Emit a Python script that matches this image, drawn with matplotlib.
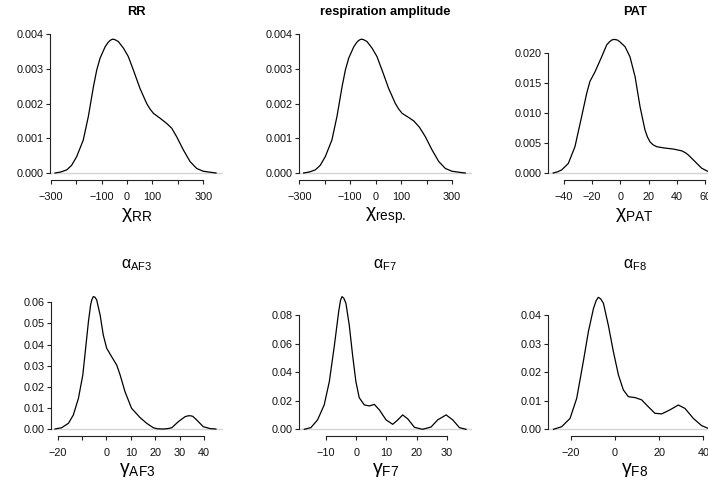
import matplotlib
matplotlib.use("Agg")
import matplotlib.pyplot as plt

plt.rcParams['font.family'] = ['Liberation Sans', 'DejaVu Sans']
plt.rcParams['mathtext.fontset'] = 'custom'
plt.rcParams['mathtext.rm'] = 'Liberation Sans'
plt.rcParams['mathtext.it'] = 'Liberation Sans:italic'
plt.rcParams['mathtext.bf'] = 'Liberation Sans:bold'
plt.rcParams['mathtext.sf'] = 'Liberation Sans'

# --- density curves ---
rr_x = [-283, -260, -237, -218, -198, -172, -152, -132, -119, -106, -86, -75, -67, -60, -54,
        -46, -34, -14, 5, 25, 51, 77, 90, 104, 130, 156, 176, 195, 222, 248, 274, 300, 340, 350]
rr_y = [0.0, 0.00003, 0.00009, 0.00022, 0.00047, 0.00095, 0.00163, 0.00249, 0.00297,
        0.00331, 0.00364, 0.00376, 0.00382, 0.00385, 0.00386, 0.00384, 0.00379, 0.0036,
        0.00336, 0.00297, 0.00244, 0.00201, 0.00185, 0.00172, 0.00158, 0.00143, 0.00129,
        0.00105, 0.00066, 0.00033, 0.00013, 0.00005, 0.00001, 0.0]

resp_x = [-283, -260, -237, -218, -198, -172, -152, -132, -119, -106, -86, -75, -67, -60, -54,
          -46, -34, -14, 5, 25, 51, 77, 90, 104, 130, 150, 172, 195, 222, 248, 274, 300, 340, 352]
resp_y = [0.0, 0.00003, 0.00009, 0.00022, 0.00047, 0.00095, 0.00163, 0.00249, 0.00297,
          0.00331, 0.00364, 0.00376, 0.00382, 0.00385, 0.00386, 0.00384, 0.00379, 0.0036,
          0.00336, 0.00297, 0.00244, 0.00201, 0.00185, 0.00172, 0.00160, 0.00150, 0.00132,
          0.00105, 0.00066, 0.00033, 0.00013, 0.00005, 0.00001, 0.0]

pat_x = [-47.6, -44.5, -41.7, -36.9, -32.2, -27.5, -23.9, -21.6, -18.0, -13.3, -9.7, -7.8,
         -6.2, -5.0, -3.8, -2.0, -0.3, 3.3, 6.8, 10.4, 13.9, 17.4, 19.2, 21.0, 23.2, 25.7,
         30.4, 37.5, 43.5, 46.0, 48.2, 52.9, 57.6, 61.7, 70.0]
pat_y = [0.0, 0.0002, 0.0005, 0.0016, 0.0044, 0.0094, 0.0133, 0.0153, 0.0169, 0.0194,
         0.0214, 0.0219, 0.0222, 0.0223, 0.0223, 0.0222, 0.0219, 0.0211, 0.0194, 0.0161,
         0.0111, 0.0072, 0.0060, 0.0052, 0.0047, 0.0044, 0.0042, 0.0040, 0.0037, 0.0034,
         0.0030, 0.0019, 0.0008, 0.0003, 0.0]

af3_x = [-21.1, -18.4, -15.6, -13.6, -11.5, -9.7, -8.4, -7.4, -6.5, -6.0, -5.4, -4.7, -4.0,
         -2.6, -1.3, 0.1, 2.1, 4.2, 5.6, 7.6, 10.3, 13.8, 16.5, 19.2, 21.0, 23.3, 25.2, 26.8,
         29.5, 32.2, 33.3, 34.3, 35.4, 37.0, 39.7, 42.5, 44.9]
af3_y = [0.0, 0.0006, 0.0027, 0.0066, 0.0145, 0.0256, 0.0398, 0.0508, 0.0587, 0.0612,
         0.0627, 0.0624, 0.0611, 0.054, 0.0445, 0.0382, 0.0343, 0.0303, 0.0256, 0.0177,
         0.0098, 0.0054, 0.0027, 0.0006, 0.0001, 0.0, 0.0002, 0.0006, 0.0035, 0.0058,
         0.0062, 0.0063, 0.0060, 0.0043, 0.0011, 0.0002, 0.0]

f7_x = [-17.2, -15.0, -12.8, -10.6, -8.9, -7.2, -5.8, -5.2, -4.7, -4.1, -3.4, -2.3, -1.2,
        -0.1, 1.0, 2.7, 4.4, 6.0, 7.7, 9.9, 12.1, 13.8, 15.4, 17.1, 19.3, 22.0, 24.8, 27.0,
        29.8, 32.0, 34.2, 36.4]
f7_y = [0.0, 0.0012, 0.0066, 0.0171, 0.0335, 0.0592, 0.0826, 0.0905, 0.0931, 0.0920,
        0.0884, 0.0732, 0.0522, 0.0335, 0.0222, 0.0171, 0.0164, 0.0175, 0.0136, 0.0066,
        0.0035, 0.0066, 0.0101, 0.0073, 0.0014, 0.0, 0.0016, 0.0066, 0.0101, 0.0066,
        0.0012, 0.0]

f8_x = [-27.8, -24.1, -20.3, -17.3, -14.3, -12.0, -9.7, -8.5, -7.5, -6.4, -5.2, -3.0, -0.7,
        1.6, 3.8, 6.1, 9.1, 12.1, 15.1, 18.1, 21.2, 24.9, 28.7, 31.7, 35.5, 39.2, 42.3, 46.0]
f8_y = [0.0, 0.0009, 0.0038, 0.0108, 0.0237, 0.0342, 0.0423, 0.0450, 0.0462, 0.0456,
        0.0441, 0.0365, 0.0272, 0.019, 0.0138, 0.0114, 0.0111, 0.0103, 0.0079, 0.0056,
        0.0054, 0.0068, 0.0085, 0.0073, 0.0038, 0.0013, 0.0003, 0.0]

# --- titles, axis labels, ticks ---
titles = ['RR', 'respiration amplitude', 'PAT',
          r'$\mathrm{α}_{\mathrm{AF3}}$', r'$\mathrm{α}_{\mathrm{F7}}$', r'$\mathrm{α}_{\mathrm{F8}}$']
xlabels = [r'$\mathrm{χ}_{\mathrm{RR}}$', r'$\mathrm{χ}_{\mathrm{resp.}}$', r'$\mathrm{χ}_{\mathrm{PAT}}$',
           r'$\mathrm{γ}_{\mathrm{AF3}}$', r'$\mathrm{γ}_{\mathrm{F7}}$', r'$\mathrm{γ}_{\mathrm{F8}}$']
xticks = [[-300, -200, -100, 0, 100, 200, 300],
          [-300, -200, -100, 0, 100, 200, 300],
          [-40, -20, 0, 20, 40, 60],
          [-20, -10, 0, 10, 20, 30, 40],
          [-10, 0, 10, 20, 30],
          [-20, 0, 20, 40]]
xticklabels = [['−300', '', '−100', '0', '100', '', '300'],
               ['−300', '', '−100', '0', '100', '', '300'],
               ['−40', '−20', '0', '20', '40', '60'],
               ['−20', '', '0', '10', '20', '30', '40'],
               ['−10', '0', '10', '20', '30'],
               ['−20', '0', '20', '40']]
yticks = [[0.000, 0.001, 0.002, 0.003, 0.004],
          [0.000, 0.001, 0.002, 0.003, 0.004],
          [0.000, 0.005, 0.010, 0.015, 0.020],
          [0.00, 0.01, 0.02, 0.03, 0.04, 0.05, 0.06],
          [0.00, 0.02, 0.04, 0.06, 0.08],
          [0.00, 0.01, 0.02, 0.03, 0.04]]
yfmt = ['%.3f', '%.3f', '%.3f', '%.2f', '%.2f', '%.2f']

curves = [(rr_x, rr_y), (resp_x, resp_y), (pat_x, pat_y),
          (af3_x, af3_y), (f7_x, f7_y), (f8_x, f8_y)]

# axes boxes in pixels (left, right, top, bottom) and limits
W, H = 708, 491
boxes = [(50, 222.7, 34, 180), (298.7, 472, 34, 180), (548.3, 721, 34, 180),
         (50.7, 222.7, 291, 435.7), (298.7, 472, 291, 435.7), (548.3, 721, 291, 435.7)]
xlims = [(-302.8, 376.3), (-302.4, 378.6), (-51.1, 71.3),
         (-22.87, 47.68), (-19.05, 38.38), (-30.14, 48.0)]
ylims = [(-0.000202, 0.0040087), (-0.000202, 0.0040087), (-0.00117, 0.02322),
         (-0.00317, 0.06535), (-0.00449, 0.09705), (-0.00224, 0.0484)]

fig = plt.figure(figsize=(W / 100, H / 100), dpi=100)

for i in range(6):
    l, r, t, b = boxes[i]
    ax = fig.add_axes([l / W, 1 - b / H, (r - l) / W, (b - t) / H])
    ax.patch.set_visible(False)
    ax.set_xlim(*xlims[i])
    ax.set_ylim(*ylims[i])
    ax.axhline(0, color='#d4d4d4', lw=1.0, zorder=1)
    ax.plot(curves[i][0], curves[i][1], color='black', lw=0.9, zorder=2,
            solid_joinstyle='round')

    ax.spines['top'].set_visible(False)
    ax.spines['right'].set_visible(False)
    ax.spines['left'].set_bounds(yticks[i][0], yticks[i][-1])
    ax.spines['bottom'].set_bounds(xticks[i][0], xticks[i][-1])
    for s in ('left', 'bottom'):
        ax.spines[s].set_color('#222222')
        ax.spines[s].set_linewidth(0.8)

    ax.set_xticks(xticks[i])
    ax.set_xticklabels(xticklabels[i])
    ax.set_yticks(yticks[i])
    ax.set_yticklabels([yfmt[i] % v for v in yticks[i]])
    ax.tick_params(axis='both', direction='out', length=2.8, width=0.8,
                   color='#222222', labelsize=7.8, labelcolor='#111111')
    ax.tick_params(axis='x', pad=6)
    ax.tick_params(axis='y', pad=1.8)

    if i < 3:
        ax.set_title(titles[i], fontsize=9.3, fontweight='bold', pad=13.5)
    else:
        ax.set_title(titles[i], fontsize=11.5, pad=16)
    ax.set_xlabel(xlabels[i], fontsize=14, labelpad=2.5)

fig.savefig('out.png', dpi=100)
